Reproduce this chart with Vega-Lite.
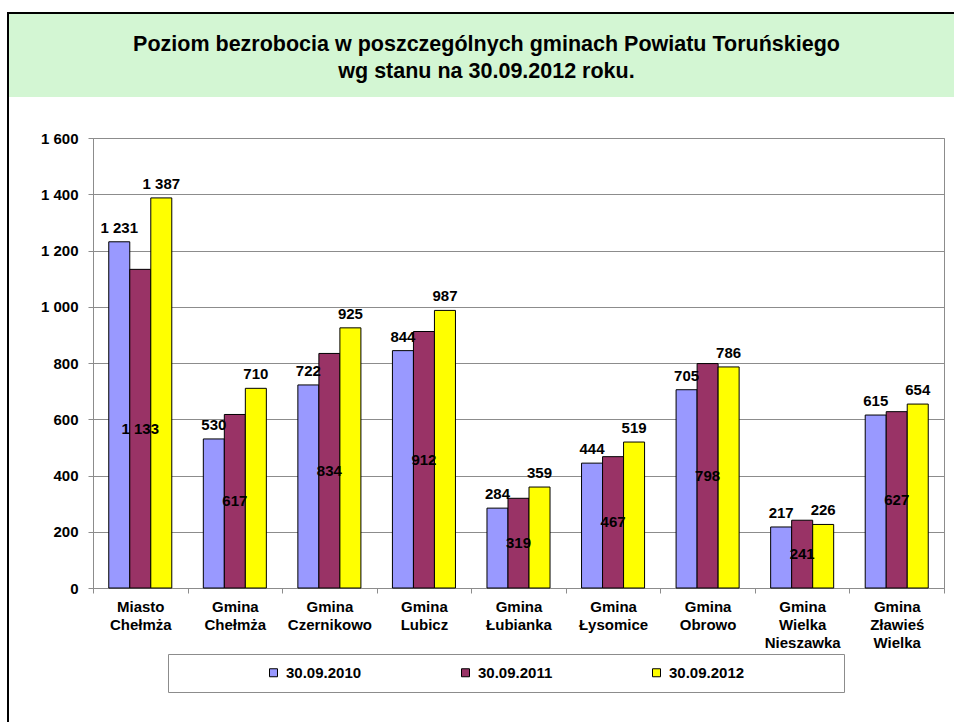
{
  "$schema": "https://vega.github.io/schema/vega-lite/v6.json",
  "padding": {"left": 7, "top": 12, "right": 0, "bottom": 0},
  "background": "white",
  "config": {
    "font": "Liberation Sans",
    "locale": {"number": {"decimal": ",", "thousands": " ", "grouping": [3], "currency": ["", ""]}}
  },
  "spacing": 0,
  "hconcat": [
    {
      "width": 2,
      "height": 710,
      "data": {"values": []},
      "mark": "rect",
      "encoding": {},
      "view": {"fill": "black", "stroke": null}
    },
    {
      "spacing": 0,
      "bounds": "flush",
      "vconcat": [
        {
          "width": 945,
          "height": 2,
          "data": {"values": []},
          "mark": "rect",
          "encoding": {},
          "view": {"fill": "black", "stroke": null}
        },
        {
          "width": 945,
          "height": 83,
          "data": {"values": [
            {"line": 1, "text": "Poziom bezrobocia w poszczególnych gminach Powiatu Toruńskiego"},
            {"line": 2, "text": "wg stanu na 30.09.2012 roku."}
          ]},
          "view": {"fill": "#d3f6d3", "stroke": null},
          "mark": {"type": "text", "fontSize": 21.5, "fontWeight": "bold", "font": "Liberation Sans", "color": "black", "dy": 3, "dx": 5, "baseline": "middle"},
          "encoding": {
            "y": {"field": "line", "type": "ordinal", "axis": null, "scale": {"padding": 1.027}},
            "text": {"field": "text"}
          }
        },
        {
          "width": 945,
          "height": 41,
          "data": {"values": []},
          "mark": "rect",
          "encoding": {},
          "view": {"fill": null, "stroke": null}
        },
        {
          "spacing": 0,
          "bounds": "flush",
          "hconcat": [
            {
              "width": 84,
              "height": 450,
              "data": {"values": []},
              "mark": "rect",
              "encoding": {},
              "view": {"fill": null, "stroke": null}
            },
            {
              "width": 851,
              "height": 450,
              "data": {"values": [
                {"gmina": "Miasto Chełmża", "rok": "30.09.2010", "value": 1231},
                {"gmina": "Miasto Chełmża", "rok": "30.09.2011", "value": 1133},
                {"gmina": "Miasto Chełmża", "rok": "30.09.2012", "value": 1387},
                {"gmina": "Gmina Chełmża", "rok": "30.09.2010", "value": 530},
                {"gmina": "Gmina Chełmża", "rok": "30.09.2011", "value": 617},
                {"gmina": "Gmina Chełmża", "rok": "30.09.2012", "value": 710},
                {"gmina": "Gmina Czernikowo", "rok": "30.09.2010", "value": 722},
                {"gmina": "Gmina Czernikowo", "rok": "30.09.2011", "value": 834},
                {"gmina": "Gmina Czernikowo", "rok": "30.09.2012", "value": 925},
                {"gmina": "Gmina Lubicz", "rok": "30.09.2010", "value": 844},
                {"gmina": "Gmina Lubicz", "rok": "30.09.2011", "value": 912},
                {"gmina": "Gmina Lubicz", "rok": "30.09.2012", "value": 987},
                {"gmina": "Gmina Łubianka", "rok": "30.09.2010", "value": 284},
                {"gmina": "Gmina Łubianka", "rok": "30.09.2011", "value": 319},
                {"gmina": "Gmina Łubianka", "rok": "30.09.2012", "value": 359},
                {"gmina": "Gmina Łysomice", "rok": "30.09.2010", "value": 444},
                {"gmina": "Gmina Łysomice", "rok": "30.09.2011", "value": 467},
                {"gmina": "Gmina Łysomice", "rok": "30.09.2012", "value": 519},
                {"gmina": "Gmina Obrowo", "rok": "30.09.2010", "value": 705},
                {"gmina": "Gmina Obrowo", "rok": "30.09.2011", "value": 798},
                {"gmina": "Gmina Obrowo", "rok": "30.09.2012", "value": 786},
                {"gmina": "Gmina Wielka Nieszawka", "rok": "30.09.2010", "value": 217},
                {"gmina": "Gmina Wielka Nieszawka", "rok": "30.09.2011", "value": 241},
                {"gmina": "Gmina Wielka Nieszawka", "rok": "30.09.2012", "value": 226},
                {"gmina": "Gmina Zławieś Wielka", "rok": "30.09.2010", "value": 615},
                {"gmina": "Gmina Zławieś Wielka", "rok": "30.09.2011", "value": 627},
                {"gmina": "Gmina Zławieś Wielka", "rok": "30.09.2012", "value": 654}
              ]},
              "view": {"stroke": "#8c8c8c", "strokeWidth": 1},
              "encoding": {
                "x": {
                  "field": "gmina", "type": "nominal", "sort": null,
                  "scale": {"paddingInner": 0, "paddingOuter": 0},
                  "axis": {
                    "title": null, "labelAngle": 0, "labelFontSize": 15, "labelFontWeight": "bold",
                    "labelColor": "black", "labelExpr": "split(datum.label, ' ')", "labelLineHeight": 18,
                    "labelPadding": 6, "tickSize": 5, "tickColor": "#8c8c8c", "domainColor": "#8c8c8c",
                    "tickBand": "extent", "grid": false
                  }
                },
                "xOffset": {"field": "rok", "type": "nominal", "sort": null, "scale": {"paddingInner": 0, "paddingOuter": 0.75}}
              },
              "layer": [
                {
                  "mark": {"type": "bar", "stroke": "black", "strokeWidth": 1},
                  "encoding": {
                    "y": {
                      "field": "value", "type": "quantitative",
                      "scale": {"domain": [0, 1600], "nice": false},
                      "axis": {
                        "title": null, "values": [0, 200, 400, 600, 800, 1000, 1200, 1400, 1600], "format": ",d",
                        "labelFontSize": 15, "labelFontWeight": "bold", "labelColor": "black", "labelPadding": 10,
                        "tickSize": 5, "tickColor": "#8c8c8c", "domainColor": "#8c8c8c", "grid": true,
                        "gridColor": "#8c8c8c"
                      }
                    },
                    "color": {
                      "field": "rok", "type": "nominal",
                      "scale": {"domain": ["30.09.2010", "30.09.2011", "30.09.2012"], "range": ["#9999ff", "#993366", "#ffff00"]},
                      "legend": {
                        "orient": "none", "legendX": 161, "legendY": 642, "direction": "horizontal",
                        "title": "\u00a0", "titleOrient": "left", "titlePadding": 87, "titleFontSize": 15,
                        "padding": 11, "strokeColor": "#8c8c8c", "fillColor": "white",
                        "symbolType": "square", "symbolSize": 64, "symbolStrokeColor": "black", "symbolStrokeWidth": 1,
                        "labelFontSize": 15, "labelFontWeight": "bold", "labelColor": "black", "labelOffset": 5,
                        "columnPadding": 96, "gridAlign": "each", "labelLimit": 400,
                        "labelExpr": "datum.label == '30.09.2012' ? datum.label + '\u2800\u2800\u2800\u2800\u2800\u2800\u2800\u2800' : datum.label"
                      }
                    }
                  }
                },
                {
                  "transform": [{"filter": "datum.rok != '30.09.2011'"}],
                  "mark": {"type": "text", "fontSize": 15, "fontWeight": "bold", "color": "black", "baseline": "alphabetic", "dy": -9},
                  "encoding": {
                    "y": {"field": "value", "type": "quantitative", "scale": {"domain": [0, 1600], "nice": false}, "axis": null},
                    "text": {"field": "value", "type": "quantitative", "format": ",d"}
                  }
                },
                {
                  "transform": [{"filter": "datum.rok == '30.09.2011'"}],
                  "mark": {"type": "text", "fontSize": 15, "fontWeight": "bold", "color": "black", "baseline": "middle"},
                  "encoding": {
                    "y": {"field": "value", "type": "quantitative", "scale": {"domain": [0, 3200], "nice": false}, "axis": null},
                    "text": {"field": "value", "type": "quantitative", "format": ",d"}
                  }
                }
              ],
              "resolve": {"scale": {"y": "independent"}}
            }
          ]
        }
      ]
    }
  ]
}
